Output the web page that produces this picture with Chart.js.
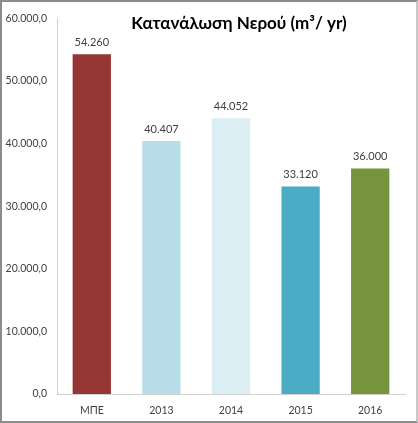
<!DOCTYPE html>
<html>
<head>
<meta charset="utf-8">
<script src="https://cdn.jsdelivr.net/npm/chart.js@4/dist/chart.umd.min.js"></script>
<style>
  body { margin: 0; background: #fff; }
  #wrap { width: 418px; height: 423px; box-sizing: border-box; border: 2px solid #8c8c8c; border-right-color: #c8c8c8; }
</style>
</head>
<body>
<div id="wrap"><canvas id="chart_nero" width="414" height="419"></canvas></div>
<script>
var labels = ["ΜΠΕ", "2013", "2014", "2015", "2016"];
var consumption = [54260, 40407, 44052, 33120, 36000];
var barColors = ["#963634", "#B7DDE8", "#DAEEF3", "#4BACC6", "#77933C"];
var titleText = "Κατανάλωση Νερού (m³/ yr)";

// 12345.6 -> "12.345,6"
function fmt(v, dec) {
    var parts = v.toFixed(dec).split(".");
    var s = parts[0].replace(/\B(?=(\d{3})+(?!\d))/g, ".");
    return parts.length > 1 ? s + "," + parts[1] : s;
}

var font = "Lato, 'Open Sans', sans-serif";

// title sits over the plot, like the excel one
var titlePlugin = {
    id: 'titleOver',
    afterDraw: function(chart) {
        var ctx = chart.ctx;
        ctx.save();
        ctx.font = "bold 17px " + font;
        ctx.fillStyle = "#000";
        ctx.textAlign = "center";
        ctx.textBaseline = "middle";
        ctx.fillText(titleText, 237, 22);
        ctx.restore();
    }
};

var valuePlugin = {
    id: 'barValues',
    afterDatasetsDraw: function(chart) {
        var ctx = chart.ctx;
        var meta = chart.getDatasetMeta(0);
        ctx.save();
        ctx.font = "11px " + font;
        ctx.fillStyle = "#404040";
        ctx.textAlign = "center";
        ctx.textBaseline = "middle";
        meta.data.forEach(function(bar, i) {
            ctx.fillText(fmt(consumption[i], 0), bar.x, bar.y - 12);
        });
        ctx.restore();
    }
};

new Chart(document.getElementById("chart_nero"), {
    type: 'bar',
    data: {
        labels: labels,
        datasets: [{
            data: consumption,
            backgroundColor: barColors,
            barPercentage: 0.55,
            categoryPercentage: 1.0
        }]
    },
    plugins: [titlePlugin, valuePlugin],
    options: {
        responsive: false,
        animation: false,
        layout: { autoPadding: false, padding: { top: 12, right: 11, bottom: 3, left: 0 } },
        plugins: {
            legend: { display: false },
            title: { display: false },
            tooltip: { enabled: false }
        },
        scales: {
            x: {
                grid: { display: false, drawTicks: false },
                border: { display: true, color: "#d0d0d0", width: 1 },
                afterFit: function(scale) { scale.height = 24; },
                ticks: { color: "#404040", padding: 10, font: { size: 10.5, family: font } }
            },
            y: {
                min: 0,
                max: 60000,
                grid: { display: false, drawTicks: false },
                border: { display: true, color: "#d0d0d0", width: 1 },
                afterFit: function(scale) { scale.width = 55; },
                ticks: {
                    stepSize: 10000,
                    color: "#404040",
                    padding: 10,
                    font: { size: 10.5, family: font },
                    callback: function(v) { return fmt(v, 1); }
                }
            }
        }
    }
});
</script>
</body>
</html>
